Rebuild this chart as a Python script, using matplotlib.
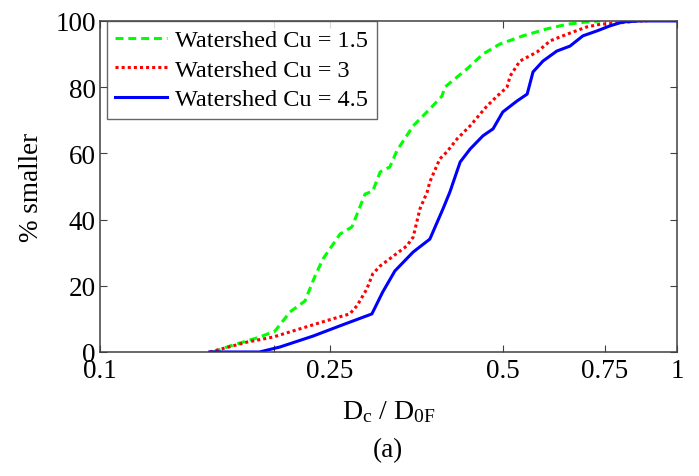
import matplotlib
matplotlib.use('Agg')
import matplotlib.pyplot as plt

plt.rcParams['font.family'] = ['Liberation Serif', 'DejaVu Serif']
plt.rcParams['mathtext.fontset'] = 'custom'
plt.rcParams['mathtext.rm'] = 'Liberation Serif'

# Watershed Cu = 1.5 (green dashed)
x_cu15 = [0.157, 0.168, 0.189, 0.201, 0.2135, 0.2266, 0.236, 0.2435, 0.2606, 0.2734,
          0.288, 0.297, 0.306, 0.318, 0.328, 0.331, 0.349, 0.373, 0.3915, 0.396,
          0.4325, 0.461, 0.493, 0.541, 0.595, 0.645, 0.698, 0.736]
y_cu15 = [0, 1.8, 4.5, 6.3, 12.1, 15.4, 23, 28.1, 35.6, 37.8,
          47.7, 48.6, 54.4, 55.9, 61.3, 62.2, 68.3, 73.4, 77.3, 80,
          85.5, 90, 93, 95.5, 97.6, 99, 99.7, 100]

# Watershed Cu = 3 (red dotted)
x_cu3 = [0.155, 0.163, 0.180, 0.1995, 0.228, 0.253, 0.271, 0.279, 0.290, 0.297,
         0.306, 0.340, 0.349, 0.3585, 0.369, 0.373, 0.388, 0.399, 0.416, 0.438,
         0.4685, 0.488, 0.5075, 0.514, 0.5345, 0.572, 0.603, 0.645, 0.698, 0.736,
         0.797, 0.852, 0.887]
y_cu3 = [0, 1, 3, 4.5, 7.6, 10, 11.5, 14, 19, 23.6,
         26, 32, 34.7, 43.2, 48.3, 51.4, 58.3, 60.4, 64.4, 68.3,
         74.3, 77.3, 80, 83.4, 87.9, 90.6, 94, 96, 98.2, 99,
         99.4, 100, 100]

# Watershed Cu = 4.5 (blue solid)
x_cu45 = [0.155, 0.189, 0.205, 0.234, 0.2606, 0.296, 0.309, 0.3245, 0.349, 0.373,
          0.393, 0.404, 0.421, 0.438, 0.461, 0.480, 0.499, 0.528, 0.550, 0.563,
          0.586, 0.619, 0.6525, 0.687, 0.727, 0.765, 0.806, 0.863, 0.887, 1.0]
y_cu45 = [0, 0, 1.5, 4.8, 7.9, 11.5, 18.1, 24.5, 30.2, 34.1,
          43.2, 48.3, 57.4, 61.3, 65.3, 67.4, 72.5, 75.8, 77.9, 84.6,
          87.9, 90.9, 92.4, 95.5, 97, 98.5, 99.7, 100, 100, 100]

xticks = [0.1, 0.2, 0.25, 0.5, 0.75, 1]
xticklabels = ['0.1', '', '0.25', '0.5', '0.75', '1']
yticks = [0, 20, 40, 60, 80, 100]

fig = plt.figure(figsize=(6.99, 4.77), dpi=100)
ax = fig.add_axes([0.143, 0.26, 0.8255, 0.694])

ax.plot(x_cu15, y_cu15, color=(0, 1, 0), linestyle=(0, (2.6, 1.6)), linewidth=2.2,
        label='Watershed Cu = 1.5')
ax.plot(x_cu3, y_cu3, color=(1, 0, 0), linestyle=(0, (1, 1)), linewidth=2.2,
        label='Watershed Cu = 3')
ax.plot(x_cu45, y_cu45, color=(0, 0, 1), linestyle='-', linewidth=2.2,
        label='Watershed Cu = 4.5')

ax.set_xscale('log')
ax.set_xlim(0.1, 1)
ax.set_ylim(0, 100)
ax.set_xticks(xticks)
ax.set_xticklabels(xticklabels)
ax.minorticks_off()
ax.set_yticks(yticks)
ax.tick_params(direction='in', top=True, right=True, labelsize=19.5, length=5,
               color='#404040')
ax.tick_params(axis='x', pad=4)
ax.tick_params(axis='y', pad=3)
for s in ax.spines.values():
    s.set_color('#404040')
    s.set_linewidth(1.1)

ax.set_ylabel('% smaller', fontsize=19.5, labelpad=8)
ax.set_xlabel(r'$\mathregular{D_c}$ / $\mathregular{D_{0F}}$', fontsize=20, labelpad=11)
fig.text(0.555, 0.055, '(a)', ha='center', va='center', fontsize=19.5)

leg = ax.legend(loc='upper left', bbox_to_anchor=(7 / 577, 1.0), fontsize=17.5,
                borderaxespad=0, fancybox=False, handlelength=2.1, labelspacing=0.3,
                borderpad=0.35, handletextpad=0.35)
leg.get_frame().set_edgecolor('#404040')
leg.get_frame().set_linewidth(1.0)

fig.savefig('out.png', dpi=100)
